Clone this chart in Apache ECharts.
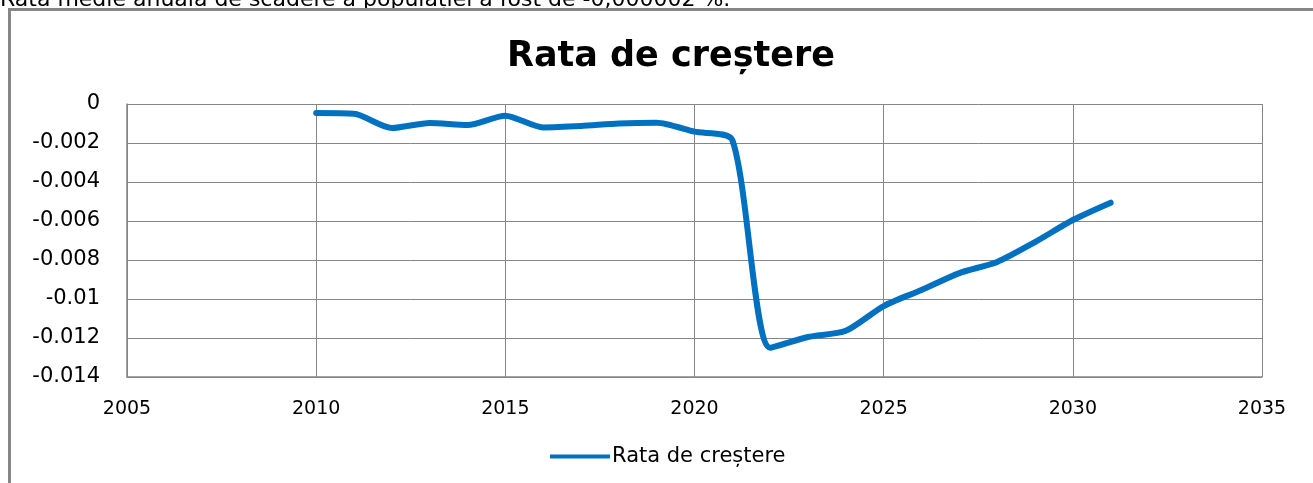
<!DOCTYPE html>
<html>
<head>
<meta charset="utf-8">
<script src="https://cdn.jsdelivr.net/npm/echarts@6/dist/echarts.min.js"></script>
<style>
  html, body { margin: 0; padding: 0; background: #ffffff; }
  #chart { width: 1313px; height: 483px; }
</style>
</head>
<body>
<div id="chart"></div>
<script>
// Annual growth rate of the population, 2010-2031
const years = [2010, 2011, 2012, 2013, 2014, 2015, 2016, 2017, 2018, 2019, 2020,
               2021, 2022, 2023, 2024, 2025, 2026, 2027, 2028, 2029, 2030, 2031];
const growthRate = [-0.00046, -0.0005, -0.00123, -0.00097, -0.00108, -0.0006, -0.0012,
                    -0.00113, -0.001, -0.00096, -0.00142, -0.00185, -0.0125, -0.01195,
                    -0.01163, -0.01036, -0.00954, -0.00867, -0.0081, -0.00708, -0.00595,
                    -0.00506];
const seriesName = 'Rata de creștere';
const chartTitle = 'Rata de creștere';
const noteText = 'Rata medie anuală de scădere a populației a fost de -0,000002 %.';

const gridColor = '#868686';

const chart = echarts.init(document.getElementById('chart'), null, { renderer: 'canvas' });

chart.setOption({
  backgroundColor: '#ffffff',
  animation: false,
  title: {
    text: chartTitle,
    left: 666,
    top: 34,
    textAlign: 'center',
    textStyle: { fontFamily: 'DejaVu Sans', fontWeight: 'bold', fontSize: 35, color: '#000000' }
  },
  graphic: [
    {
      // sentence above the chart frame, running off the top edge
      type: 'text',
      x: 0,
      y: 0,
      style: {
        text: noteText,
        font: '22px "DejaVu Sans"',
        fill: '#000000',
        align: 'left',
        verticalAlign: 'middle'
      }
    },
    {
      type: 'polyline',
      shape: { points: [[9.5, 483], [9.5, 9.5], [1313, 9.5]] },
      style: { stroke: gridColor, lineWidth: 3, fill: null }
    }
  ],
  legend: {
    bottom: 11,
    left: 545,
    itemWidth: 60,
    itemHeight: 14,
    data: [{ name: seriesName, icon: 'path://M0,5 L60,5 L60,9 L0,9 Z' }],
    textStyle: { fontFamily: 'DejaVu Sans', fontSize: 21, color: '#000000', padding: [0, 0, 0, -3] }
  },
  grid: { left: 127, right: 51, top: 104, bottom: 106, containLabel: false },
  xAxis: {
    type: 'value',
    min: 2005,
    max: 2035,
    interval: 5,
    axisLine: { show: true, onZero: false, lineStyle: { color: gridColor, width: 1.5 } },
    axisTick: { show: false },
    axisLabel: {
      margin: 23,
      fontFamily: 'DejaVu Sans',
      fontSize: 19,
      color: '#000000',
      formatter: v => String(v)
    },
    splitLine: { show: true, lineStyle: { color: gridColor, width: 1 } }
  },
  yAxis: {
    type: 'value',
    min: -0.014,
    max: 0,
    interval: 0.002,
    axisLine: { show: true, lineStyle: { color: gridColor, width: 1.5 } },
    axisTick: { show: false },
    axisLabel: {
      margin: 27,
      fontFamily: 'DejaVu Sans',
      fontSize: 21,
      color: '#000000',
      formatter: v => String(parseFloat(v.toFixed(3)))
    },
    splitLine: { show: true, lineStyle: { color: gridColor, width: 1 } }
  },
  series: [{
    name: seriesName,
    type: 'line',
    data: years.map((y, i) => [y, growthRate[i]]),
    smooth: 0.25,
    showSymbol: false,
    symbol: 'none',
    color: '#0070C0',
    lineStyle: { color: '#0070C0', width: 6, cap: 'round', join: 'round' }
  }]
});
</script>
</body>
</html>
